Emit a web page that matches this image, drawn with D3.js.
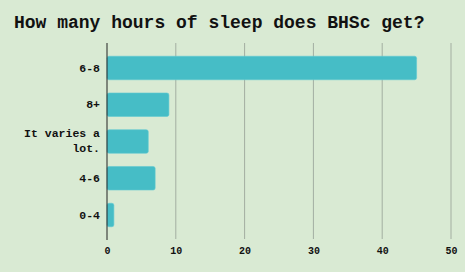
<!DOCTYPE html>
<html><head><meta charset="utf-8">
<script src="https://cdn.jsdelivr.net/npm/d3@7"></script>
<style>body{margin:0;background:#d9ead3;}svg{display:block;}</style>
</head><body><svg id="c" width="465" height="272"></svg>
<script>
const categories = ["6-8", "8+", "It varies a lot.", "4-6", "0-4"];
const values = [45, 9, 6, 7, 1];
const ticks = [0, 10, 20, 30, 40, 50];
const title = "How many hours of sleep does BHSc get?";

const svg = d3.select("#c");
const W = 465, H = 272;
const m = {left: 107, top: 43, bottom: 240};
const font = "'Liberation Mono','Courier New',monospace";
svg.append("rect").attr("width", W).attr("height", H).attr("fill", "#d9ead3");

const x = d3.scaleLinear().domain([0, 50]).range([m.left, 451]);
const y = d3.scaleBand().domain(categories).range([m.top, m.bottom]).padding(0.36);

svg.append("text").attr("x", 14).attr("y", 28).text(title)
  .attr("font-family", font).attr("font-weight", "bold").attr("font-size", 18).attr("fill", "#111");

svg.append("g").selectAll("line").data(ticks.slice(1)).join("line")
  .attr("x1", d => x(d)).attr("x2", d => x(d)).attr("y1", m.top).attr("y2", m.bottom - 1)
  .attr("stroke", "#a3aea1").attr("stroke-width", 1);

svg.append("g").selectAll("rect").data(categories).join("rect")
  .attr("x", x(0)).attr("y", d => y(d)).attr("height", y.bandwidth())
  .attr("width", (d, i) => x(values[i]) - x(0))
  .attr("rx", 2).attr("fill", "#46bdc6").attr("stroke", "#62cad2").attr("stroke-width", 0.6);

svg.append("line").attr("x1", x(0)).attr("x2", x(0)).attr("y1", m.top).attr("y2", m.bottom)
  .attr("stroke", "#222").attr("stroke-width", 1);

const xa = svg.append("g").attr("transform", `translate(0,${m.bottom})`)
  .call(d3.axisBottom(x).tickValues(ticks).tickSize(0).tickPadding(7));
xa.select(".domain").remove();
xa.selectAll("text").attr("font-family", font).attr("font-weight", "bold").attr("font-size", 10).attr("fill", "#111");

const ya = svg.append("g").attr("transform", `translate(${m.left},0)`)
  .call(d3.axisLeft(y).tickSize(0).tickPadding(7));
ya.select(".domain").remove();
ya.selectAll("text").attr("font-family", font).attr("font-weight", "bold").attr("font-size", 11.5).attr("fill", "#111")
  .each(function(d) {
    if (d === "It varies a lot.") {
      const t = d3.select(this);
      t.text(null).attr("dy", null);
      t.append("tspan").attr("x", -7).attr("dy", "-0.35em").text("It varies a");
      t.append("tspan").attr("x", -7).attr("dy", "1.3em").text("lot.");
    }
  });
</script></body></html>
